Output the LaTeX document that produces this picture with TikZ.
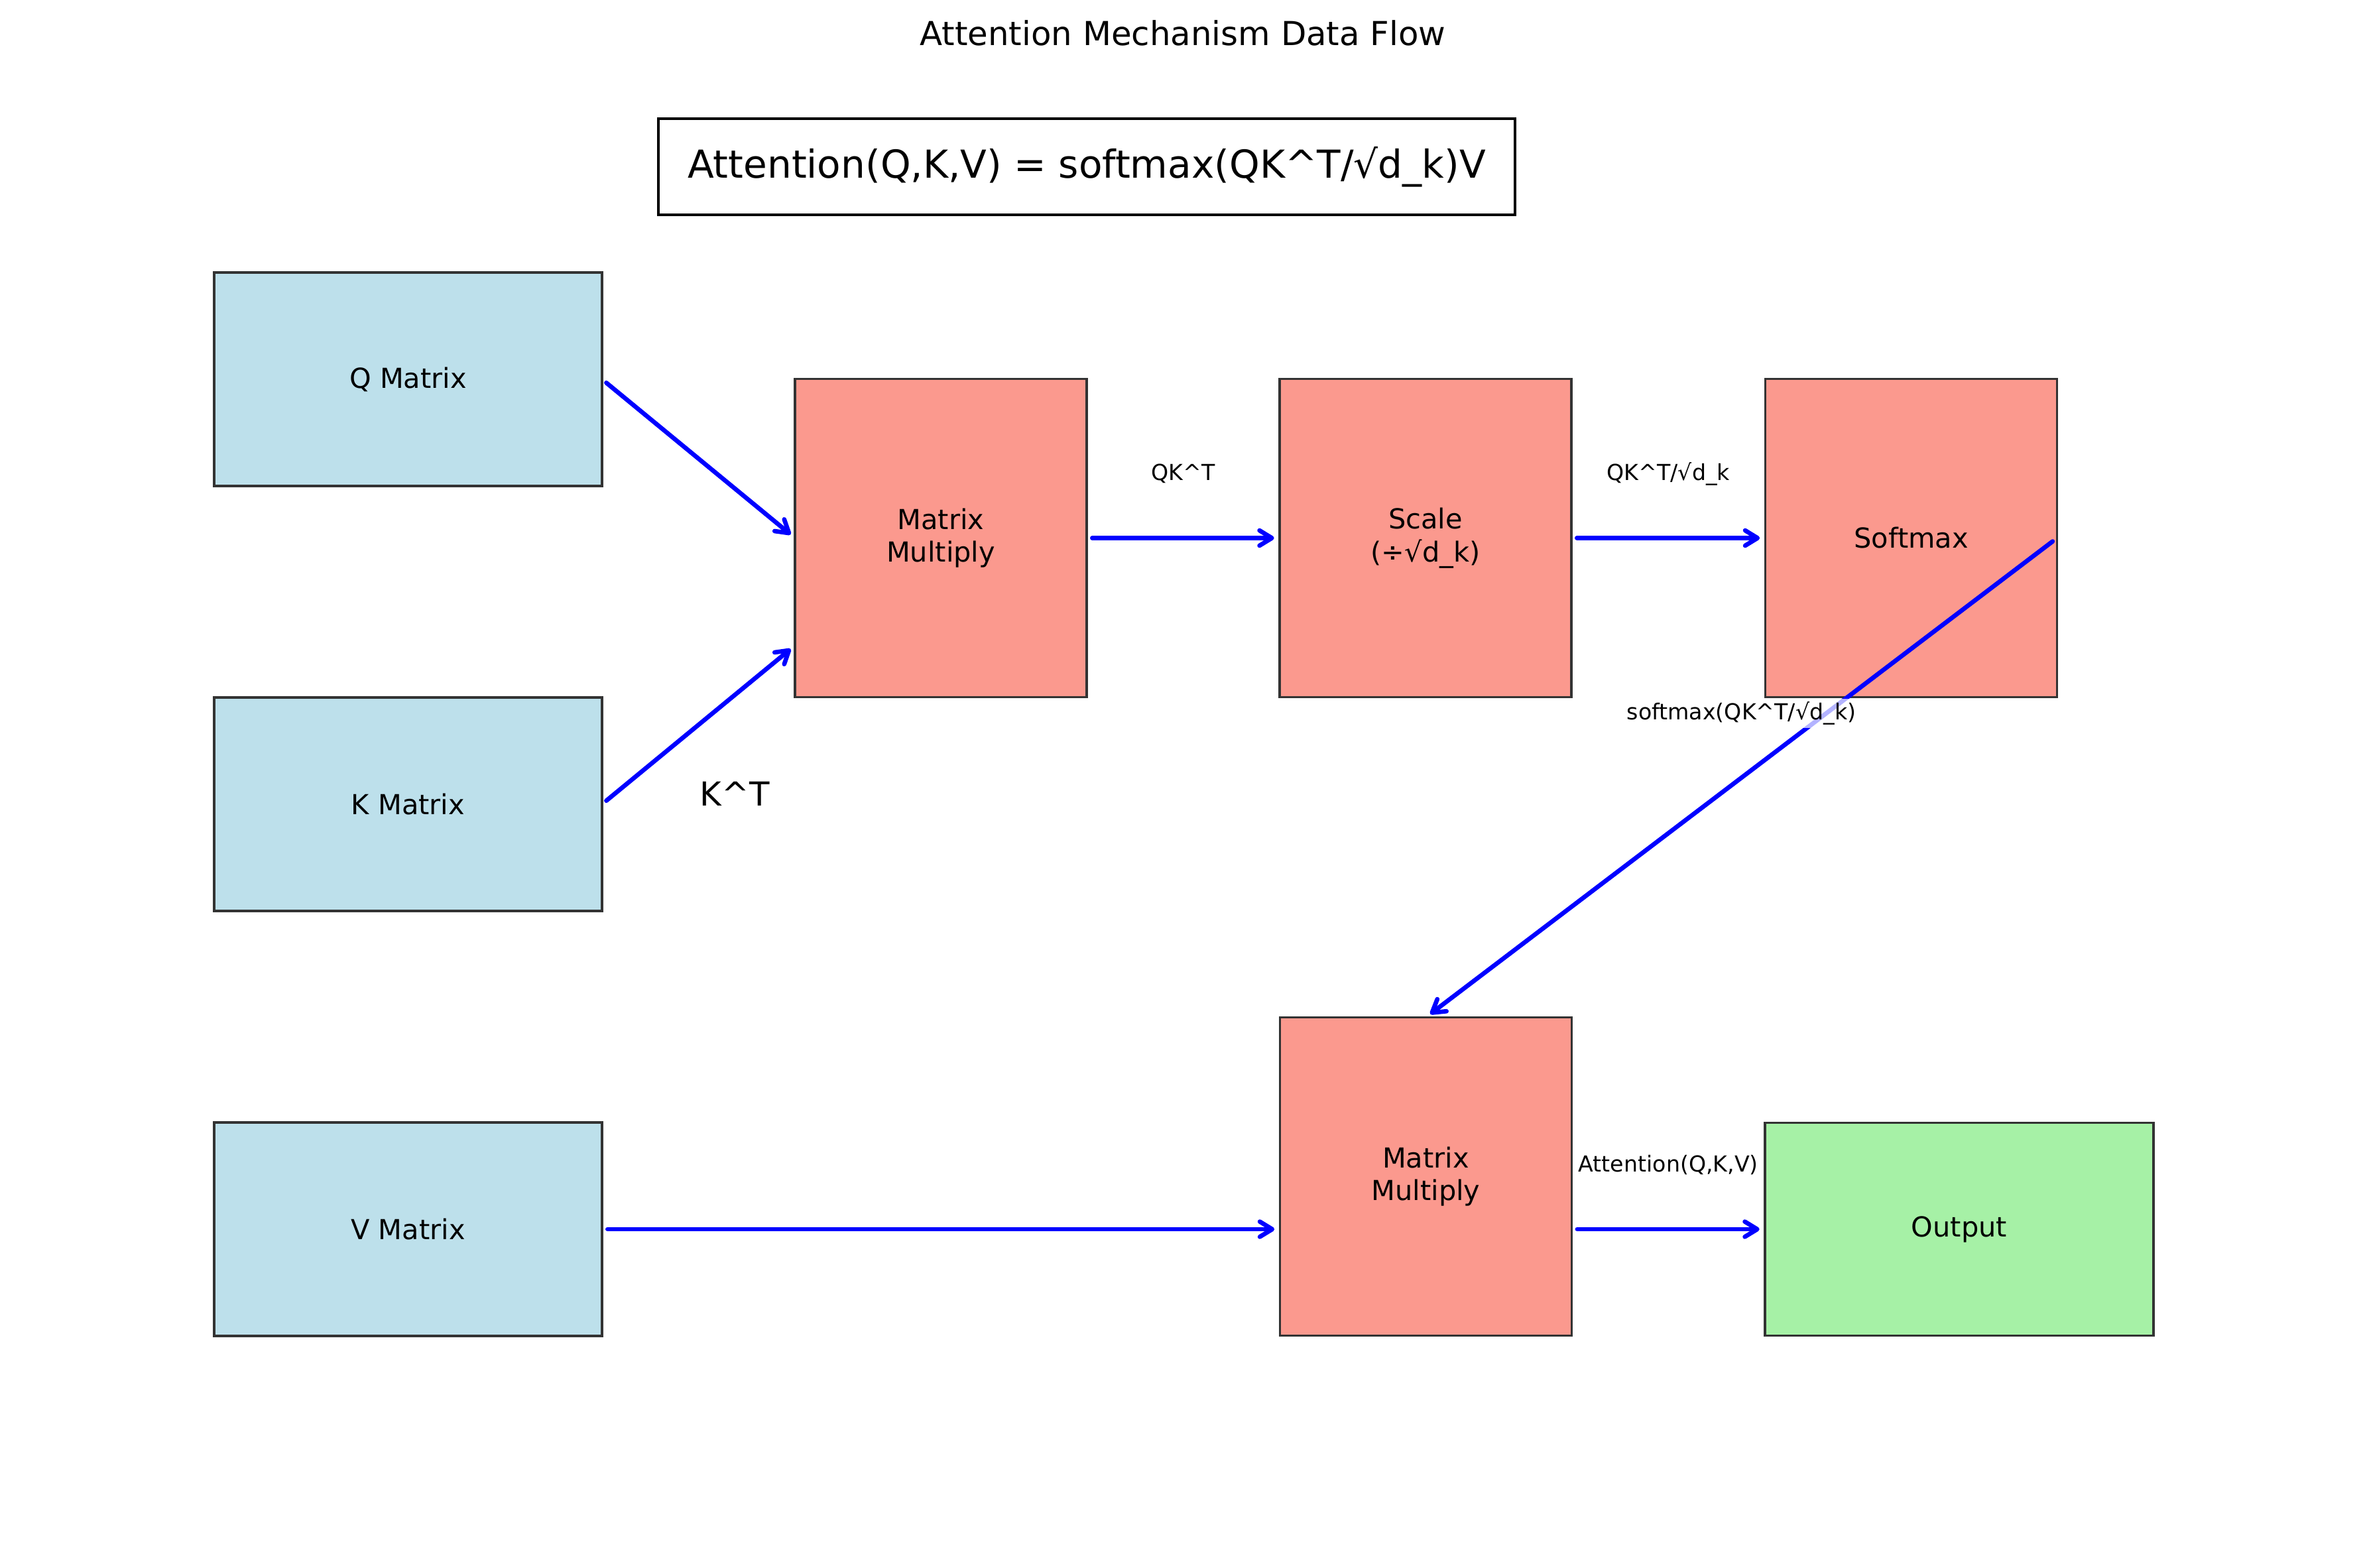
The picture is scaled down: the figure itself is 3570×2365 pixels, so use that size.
\documentclass[tikz,border=0pt]{standalone}
\usepackage{fontspec}
\setmainfont{DejaVu Sans}
\usetikzlibrary{arrows.meta, positioning, calc}

\definecolor{inblue}{RGB}{189,224,235}
\definecolor{opred}{RGB}{251,153,142}
\definecolor{outgreen}{RGB}{166,241,166}
\definecolor{edgegray}{RGB}{51,51,51}

\begin{document}
\begin{tikzpicture}[x=0.24bp, y=-0.24bp,
    box/.style={draw=edgegray, line width=0.9bp, inner sep=0pt, outer sep=0pt, align=center, font=\fontsize{10}{12}\selectfont},
    inbox/.style={box, fill=inblue, minimum width=585*0.24bp, minimum height=322*0.24bp},
    opbox/.style={box, fill=opred, minimum width=440*0.24bp, minimum height=480*0.24bp},
    outbox/.style={box, fill=outgreen, minimum width=586*0.24bp, minimum height=321*0.24bp},
    flow/.style={-{Straight Barb[length=4.5bp, width=5.5bp, round]}, blue, line width=1.6bp, line cap=round, shorten <=2bp, shorten >=2bp},
    elabel/.style={text=black, font=\fontsize{8}{9.6}\selectfont, inner sep=1bp, yshift=97*0.24bp}
]
    \useasboundingbox (0,0) rectangle (3570,2365);

    \node[anchor=base, font=\fontsize{12}{14.4}\selectfont] (title) at (1784,68) {Attention Mechanism Data Flow};
    \node[draw, line width=1bp, inner sep=0pt, minimum width=1292*0.24bp, minimum height=145*0.24bp, font=\fontsize{14}{16.8}\selectfont] (formula) at (1639,251.5) {Attention(Q,K,V) = softmax(QK\textasciicircum T/√d\_k)V};

    \node[inbox] (qmat) at (615.5,572) {Q Matrix};
    \node[inbox] (kmat) at (615.5,1213) {K Matrix};
    \node[inbox] (vmat) at (615.5,1854) {V Matrix};
    \node[opbox] (mmA) at (1419,811.5) {Matrix\\Multiply};
    \node[opbox] (scale) at (2150,811.5) {Scale\\(÷√d\_k)};
    \node[opbox] (soft) at (2882.5,811.5) {Softmax};
    \node[opbox] (mmB) at (2150.5,1774.5) {Matrix\\Multiply};
    \node[outbox] (out) at (2955,1854) {Output};
    \node[font=\fontsize{12}{14.4}\selectfont] (kt) at (1108,1197) {K\textasciicircum T};

    \draw[flow] (qmat.east) -- (mmA.west);
    \draw[flow] (kmat.east) -- ($(mmA.west)+(0,162)$);
    \draw[flow] (mmA.east) -- node[elabel] (lqk) {QK\textasciicircum T} (scale.west);
    \draw[flow] (scale.east) -- node[elabel] (lscaled) {QK\textasciicircum T/√d\_k} (soft.west);
    \draw[flow] (soft.east) -- node[elabel, fill=white, fill opacity=0.7, text opacity=1] (lsoft) {softmax(QK\textasciicircum T/√d\_k)} (mmB.north);
    \draw[flow] (vmat.east) -- (vmat.east -| mmB.west);
    \draw[flow] (out.west -| mmB.east) -- node[elabel] (latt) {Attention(Q,K,V)} (out.west);
\end{tikzpicture}
\end{document}
